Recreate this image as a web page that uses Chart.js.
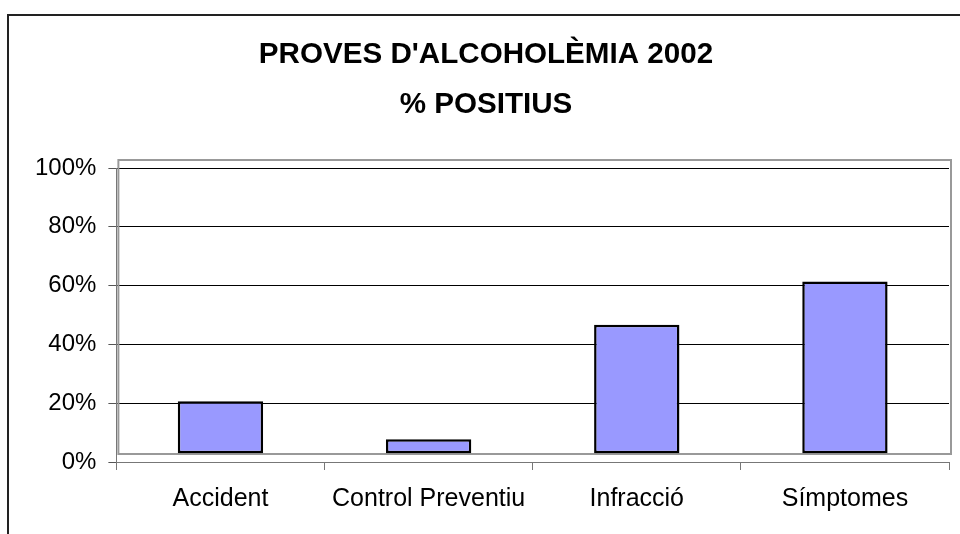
<!DOCTYPE html>
<html>
<head>
<meta charset="utf-8">
<script src="https://cdn.jsdelivr.net/npm/chart.js@4"></script>
<style>
  html, body { margin: 0; padding: 0; background: #fff; overflow: hidden; }
  #wrap { position: relative; width: 960px; height: 534px; }
  #edge { position: absolute; left: 7px; top: 14px; width: 1000px; height: 600px;
          border-left: 2px solid #222; border-top: 2px solid #222; pointer-events: none; }
</style>
</head>
<body>
<div id="wrap">
  <canvas id="c" width="960" height="534"></canvas>
  <div id="edge"></div>
</div>
<script>
(function () {
  'use strict';

  // dades llegides del gràfic
  const categories = ['Accident', 'Control Preventiu', 'Infracció', 'Símptomes'];
  const positius   = [20.7, 7.7, 46.7, 61.4];
  const yTicks     = [0, 20, 40, 60, 80, 100];
  const titleLines = ["PROVES D'ALCOHOLÈMIA 2002", '% POSITIUS'];

  const FONT = "'Liberation Sans', Arial, sans-serif";

  // marc gris de l'àrea de traçat (desplaçat com a l'original)
  const plotFrame = {
    id: 'plotFrame',
    beforeDatasetsDraw(chart) {
      const { ctx, chartArea: a } = chart;
      ctx.save();
      ctx.strokeStyle = '#999';
      ctx.lineWidth = 2;
      ctx.strokeRect(a.left + 2, a.top - 8, a.right - a.left, a.bottom - a.top);
      ctx.restore();
    }
  };

  new Chart(document.getElementById('c'), {
    type: 'bar',
    data: {
      labels: categories,
      datasets: [{
        data: positius,
        base: 3,
        backgroundColor: '#9999ff',
        borderColor: '#000',
        borderWidth: 2.5,
        borderSkipped: false,
        categoryPercentage: 1,
        barPercentage: 0.41
      }]
    },
    options: {
      responsive: false,
      animation: false,
      layout: { padding: { left: 23, right: 11, top: 30, bottom: 6 } },
      plugins: {
        legend: { display: false },
        tooltip: { enabled: false },
        title: {
          display: true,
          text: titleLines,
          color: '#000',
          font: { family: FONT, size: 29.6, weight: 'bold', lineHeight: 50 / 29.6 },
          padding: { top: 0, bottom: 38 }
        }
      },
      scales: {
        x: {
          grid: { drawOnChartArea: false, offset: true, tickLength: 8, color: '#777' },
          border: { color: '#777', width: 1 },
          ticks: { color: '#000', padding: 14, font: { family: FONT, size: 25 } }
        },
        y: {
          min: 0,
          max: 100,
          afterBuildTicks: (s) => { s.ticks = yTicks.map(v => ({ value: v })); },
          grid: { color: '#000', tickColor: '#555', tickLength: 8, lineWidth: 1 },
          border: { color: '#777', width: 1 },
          ticks: { color: '#000', padding: 12, font: { family: FONT, size: 24 },
                   callback: v => v + '%' }
        }
      }
    },
    plugins: [plotFrame]
  });
})();
</script>
</body>
</html>
